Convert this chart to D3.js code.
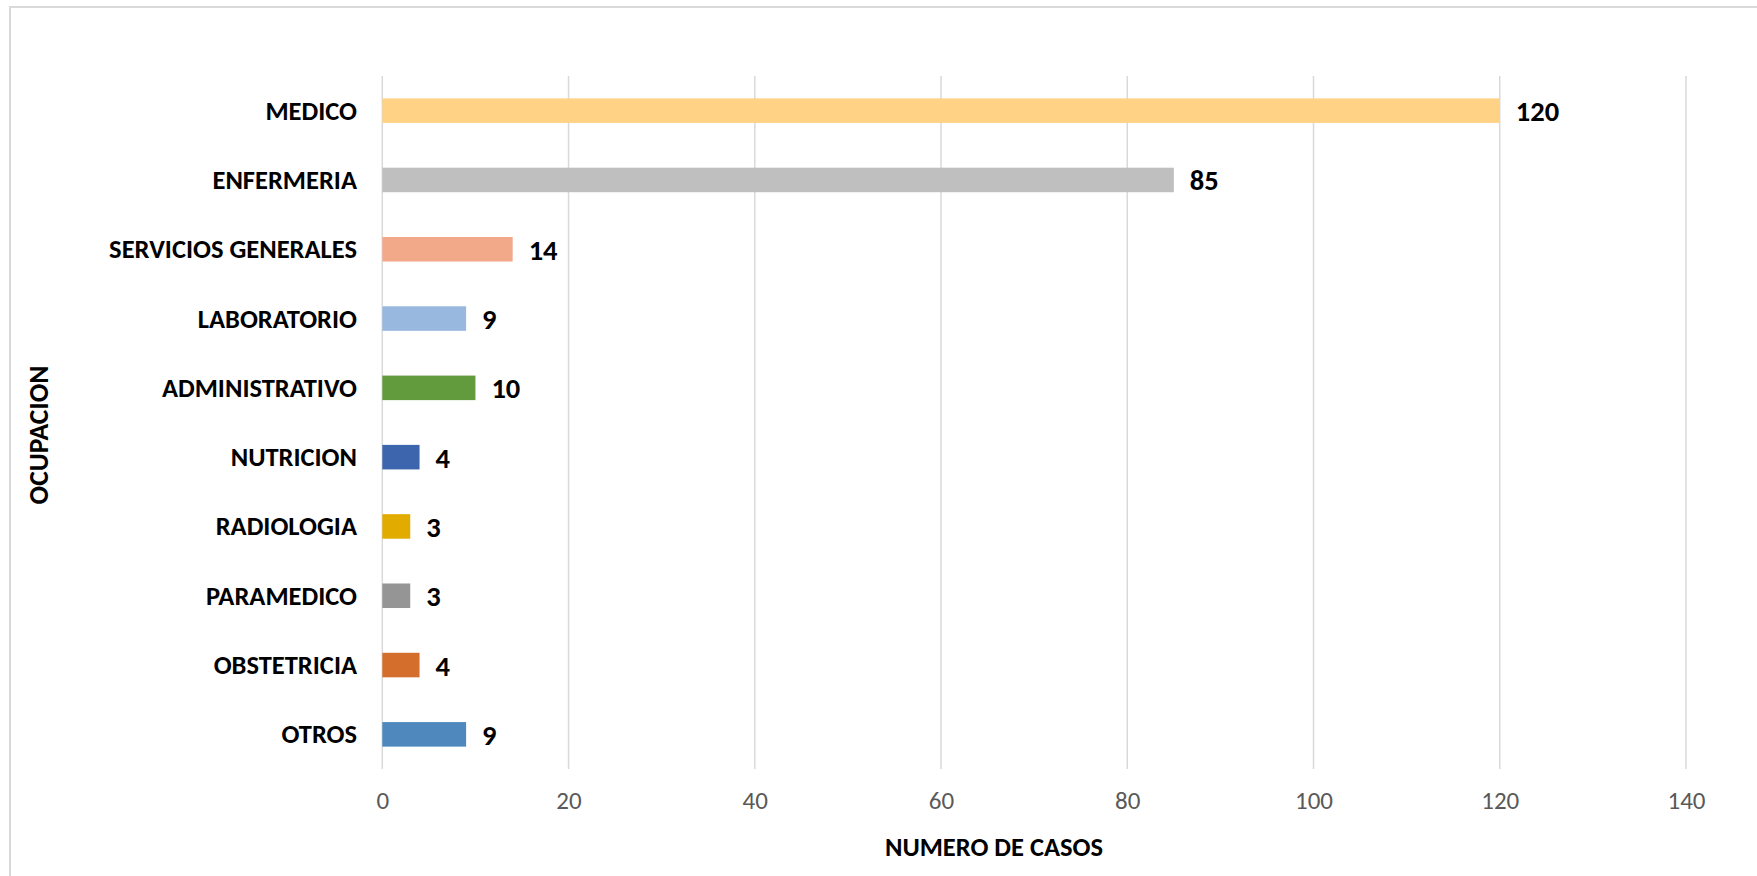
<!DOCTYPE html>
<html>
<head>
<meta charset="utf-8">
<script src="https://cdn.jsdelivr.net/npm/d3@7"></script>
<style>
  body { margin: 0; background: #fff; }
  svg text { font-family: Calibri, Carlito, Lato, sans-serif; }
</style>
</head>
<body>
<div id="chart"></div>
<script>
const categories = [
  "MEDICO",
  "ENFERMERIA",
  "SERVICIOS GENERALES",
  "LABORATORIO",
  "ADMINISTRATIVO",
  "NUTRICION",
  "RADIOLOGIA",
  "PARAMEDICO",
  "OBSTETRICIA",
  "OTROS",
];
const values = [120, 85, 14, 9, 10, 4, 3, 3, 4, 9];
const barColors = [
  "#ffd285",
  "#bfbfbf",
  "#f2a98a",
  "#99b8df",
  "#629a3e",
  "#3c65ad",
  "#e2ab00",
  "#959595",
  "#d36e2c",
  "#4e88bd",
];
const xTicks = [0, 20, 40, 60, 80, 100, 120, 140];
const xTitle = "NUMERO DE CASOS";
const yTitle = "OCUPACION";

const W = 1757;
const H = 876;
const plot = { left: 382.3, right: 1686, top: 76, bottom: 769 };

const svg = d3
  .select("#chart")
  .append("svg")
  .attr("width", W)
  .attr("height", H);

// chart frame (only top and left edges fall inside the picture)
svg
  .append("path")
  .attr("d", `M10,${H} L10,7 L${W},7`)
  .attr("fill", "none")
  .attr("stroke", "#d9d9d9")
  .attr("stroke-width", 2);

const x = d3.scaleLinear().domain([0, 140]).range([plot.left, plot.right]);

const y = d3
  .scaleBand()
  .domain(categories)
  .range([plot.top, plot.bottom])
  .paddingInner(0.646)
  .paddingOuter(0.323);

// vertical gridlines
svg
  .append("g")
  .selectAll("line")
  .data(xTicks)
  .enter()
  .append("line")
  .attr("x1", (d) => x(d))
  .attr("x2", (d) => x(d))
  .attr("y1", plot.top)
  .attr("y2", plot.bottom)
  .attr("stroke", "#d9d9d9")
  .attr("stroke-width", 1.5);

// x tick labels
const xAxis = d3.axisBottom(x).tickValues(xTicks).tickSize(0).tickPadding(0);
const gx = svg
  .append("g")
  .attr("transform", `translate(0, 789)`)
  .call(xAxis);
gx.select(".domain").remove();
gx.selectAll("text")
  .attr("dy", null)
  .attr("y", 11)
  .attr("dominant-baseline", "central")
  .attr("fill", "#595959")
  .style("font-size", "25px");

// category labels
const yAxis = d3.axisLeft(y).tickSize(0).tickPadding(0);
const gy = svg
  .append("g")
  .attr("transform", `translate(357, 0)`)
  .call(yAxis);
gy.select(".domain").remove();
gy.selectAll("text")
  .attr("dy", null)
  .attr("x", 0)
  .attr("dominant-baseline", "central")
  .attr("fill", "#000")
  .style("font-size", "26.5px")
  .style("font-weight", "bold");

// bars
svg
  .append("g")
  .selectAll("rect")
  .data(values)
  .enter()
  .append("rect")
  .attr("x", x(0))
  .attr("y", (d, i) => y(categories[i]))
  .attr("width", (d) => x(d) - x(0))
  .attr("height", y.bandwidth())
  .attr("fill", (d, i) => barColors[i]);

// value labels
svg
  .append("g")
  .selectAll("text")
  .data(values)
  .enter()
  .append("text")
  .attr("x", (d) => x(d) + 16)
  .attr("y", (d, i) => y(categories[i]) + y.bandwidth() / 2 + 1)
  .attr("dominant-baseline", "central")
  .style("font-size", "28.5px")
  .style("font-weight", "bold")
  .attr("fill", "#000")
  .text((d) => d);

// axis titles
svg
  .append("text")
  .attr("x", 994)
  .attr("y", 847)
  .attr("text-anchor", "middle")
  .attr("dominant-baseline", "central")
  .style("font-size", "26.5px")
  .style("font-weight", "bold")
  .text(xTitle);

svg
  .append("text")
  .attr("transform", `translate(38, 435) rotate(-90)`)
  .attr("text-anchor", "middle")
  .attr("dominant-baseline", "central")
  .style("font-size", "27.5px")
  .style("font-weight", "bold")
  .text(yTitle);
</script>
</body>
</html>
